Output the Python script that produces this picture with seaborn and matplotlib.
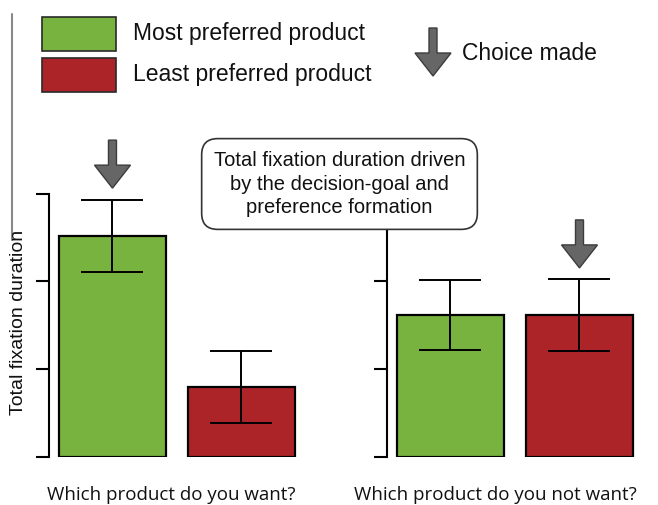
import numpy as np
import pandas as pd
import matplotlib
matplotlib.use("Agg")
import matplotlib.pyplot as plt
import seaborn as sns
from matplotlib.patches import Rectangle, Polygon
from matplotlib.lines import Line2D
from matplotlib.transforms import IdentityTransform

# === Data ===
questions = ["Which product do you want?", "Which product do you not want?"]
products = ["Most preferred product", "Least preferred product"]
want_means = [2.52, 0.79]
want_errs = [0.41, 0.41]
notwant_means = [1.61, 1.61]
notwant_errs = [0.40, 0.41]
chosen = [0, 1]  # index of the product picked for each question
yticks = [0, 1, 2, 3]
box_text = "Total fixation duration driven\nby the decision-goal and\npreference formation"

colors = {"Most preferred product": "#79b33f", "Least preferred product": "#ad2428"}

sns.set_theme(style="white")
plt.rcParams["font.family"] = ["Liberation Sans", "DejaVu Sans"]

W, H = 658, 505
fig = plt.figure(figsize=(W / 100, H / 100), dpi=100)


def px(x, y):
    # image pixel (top-left origin) -> figure fraction
    return x / W, 1 - y / H


def add_axes(x0, x1, ytop, ybot):
    return fig.add_axes([x0 / W, 1 - ybot / H, (x1 - x0) / W, (ybot - ytop) / H])


ax_left = add_axes(49, 310, 193.5, 456.5)
ax_right = add_axes(387, 648, 193.5, 456.5)

panels = [(ax_left, want_means, want_errs), (ax_right, notwant_means, notwant_errs)]

for i, (ax, means, errs) in enumerate(panels):
    df = pd.DataFrame({"product": products, "duration": means})
    sns.barplot(data=df, x="product", y="duration", hue="product", palette=colors,
                saturation=1, width=0.83, edgecolor="black", linewidth=1.6,
                errorbar=None, legend=False, ax=ax)
    ax.errorbar(x=[0, 1], y=means, yerr=errs, fmt="none", ecolor="black",
                elinewidth=1.4, capsize=22, capthick=1.4, zorder=5)
    ax.set_xlim(-0.492, 1.531)
    ax.set_ylim(0, 3)
    ax.set_yticks(yticks)
    ax.set_yticklabels([])
    ax.set_xticks([])
    ax.set_xlabel("")
    ax.set_ylabel("")
    for s in ["top", "right", "bottom"]:
        ax.spines[s].set_visible(False)
    ax.spines["left"].set_linewidth(1.5)
    ax.spines["left"].set_color("black")
    ax.tick_params(axis="y", direction="out", length=9.5, width=1.5, color="black", left=True)
    ax.patch.set_alpha(0)


def arrow(tip_x, tip_y):
    # tip in display pixels; block arrow pointing down
    shape = np.array([(-4, 48), (4, 48), (4, 23), (18, 23), (0, 0), (-18, 23), (-4, 23)])
    verts = shape + np.array([tip_x, tip_y])
    fig.patches.append(Polygon(verts, closed=True, facecolor="#666666", edgecolor="#3c3c3c",
                               linewidth=1.0, transform=IdentityTransform(), figure=fig,
                               zorder=6))


# choice arrows above the chosen bar
for i, (ax, means, errs) in enumerate(panels):
    k = chosen[i]
    tx, ty = ax.transData.transform((k, means[k] + errs[k]))
    arrow(tx, ty + 11.5)

# legend
for j, p in enumerate(products):
    y0 = [17, 58][j]
    x0, y1 = px(42, y0 + 34)
    fig.patches.append(Rectangle((x0, y1), 74 / W, 34 / H, transform=fig.transFigure,
                                 facecolor=colors[p], edgecolor="#2a2a2a", linewidth=1.2,
                                 figure=fig))
    fig.text(*px(133, y0 + 16), p, fontsize=16.5, va="center", ha="left", color="#111111")
arrow(433, H - 76)
fig.text(*px(462, 53), "Choice made", fontsize=16.5, va="center", ha="left", color="#111111")

# thin gray line at far left
fig.lines.append(Line2D([12 / W, 12 / W], [1 - 14 / H, 1 - 240 / H], transform=fig.transFigure,
                        color="#8a8a8a", linewidth=1.5, figure=fig))

# annotation box
fig.text(*px(339.5, 184), box_text, fontsize=14.5, ha="center", va="center",
         multialignment="center", linespacing=1.32, color="#111111", zorder=10,
         bbox=dict(boxstyle="round,pad=0.6,rounding_size=0.8", facecolor="white",
                   edgecolor="#333333", linewidth=1.2))

# axis label and question labels
fig.text(*px(19, 322), "Total fixation duration", rotation=90, fontsize=14,
         ha="center", va="center", color="#111111")
for q, cx in zip(questions, [171, 495]):
    fig.text(*px(cx, 495), q, fontsize=13.5, ha="center", va="center",
             family=["Open Sans", "DejaVu Sans"], color="#111111")

fig.savefig("out.png", dpi=100)
